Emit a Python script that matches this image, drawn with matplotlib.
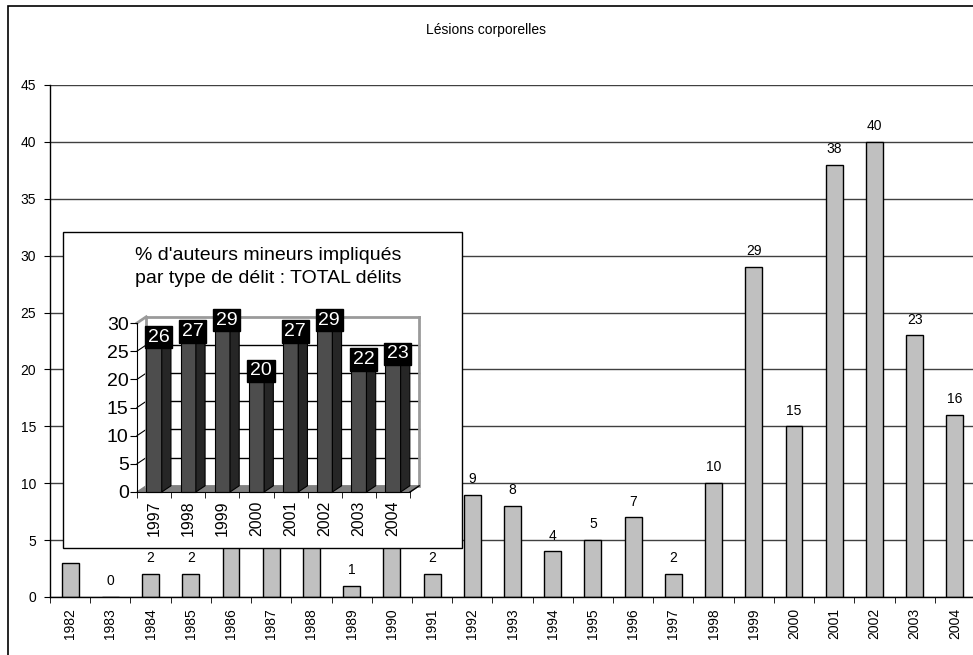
import matplotlib
matplotlib.use('Agg')
import matplotlib.pyplot as plt
from matplotlib.patches import Rectangle, Polygon
from matplotlib.lines import Line2D
import numpy as np

plt.rcParams['font.family'] = ['Liberation Sans', 'DejaVu Sans']

# ---------------- data ----------------
title = "Lésions corporelles"
years = [str(y) for y in range(1982, 2005)]
values = [3, 0, 2, 2, 6, 5, 6, 1, 5, 2, 9, 8, 4, 5, 7, 2, 10, 29, 15, 38, 40, 23, 16]

inset_title = "% d'auteurs mineurs impliqués\npar type de délit : TOTAL délits"
inset_years = ['1997', '1998', '1999', '2000', '2001', '2002', '2003', '2004']
inset_values = [26, 27, 29, 20, 27, 29, 22, 23]
y_ticks = list(range(0, 50, 5))
inset_y_ticks = list(range(0, 35, 5))

# ---------------- figure ----------------
W, H = 973, 655
fig = plt.figure(figsize=(W / 100, H / 100), dpi=100)


def fx(px):
    return px / W


def fy(py):
    return 1 - py / H


# inset box extent (pixels)
BOX_L, BOX_T, BOX_R, BOX_B = 63, 232, 462, 548

# outer border (cut off at right / bottom)
fig.patches.append(Rectangle((fx(8), fy(665)), fx(990) - fx(8), fy(6) - fy(665),
                             transform=fig.transFigure, fill=False, ec='black',
                             lw=1.2, zorder=0))

fig.text(fx(486), fy(30), title, ha='center', va='center', fontsize=10)

# ---------------- main axes ----------------
ax = fig.add_axes([fx(50), fy(597), (975 - 50) / W, (597 - 85) / H])
ax.set_zorder(0)
x = np.arange(len(years))
ax.bar(x, values, width=0.42, color='#c0c0c0', edgecolor='black', linewidth=1, zorder=2)
ax.set_xlim(-0.5, len(years) - 0.5)
ax.set_ylim(0, 45)
ax.set_yticks(y_ticks)
ax.yaxis.grid(True, color='#404040', lw=1)
ax.set_axisbelow(True)
for s in ['top', 'right']:
    ax.spines[s].set_visible(False)
for s in ['left', 'bottom']:
    ax.spines[s].set_color('black')
    ax.spines[s].set_linewidth(1)
ax.set_xticks(x)
ax.set_xticklabels(years, rotation=90, fontsize=10)
ax.set_xticks(np.arange(len(years) + 1) - 0.5, minor=True)
ax.tick_params(axis='x', which='major', length=0, pad=8)
ax.tick_params(axis='x', which='minor', length=4, direction='out')
ax.tick_params(axis='y', length=4, pad=6, labelsize=10)

# value labels (those falling behind the inset box are hidden, as in the reference)
fig.canvas.draw()
for xi, v in zip(x, values):
    px, py = ax.transData.transform((xi, v))
    py_top = H - py  # pixel from top
    label_px_y = py_top - 12
    if BOX_L - 5 < px < BOX_R + 5 and label_px_y - 12 < BOX_B:
        continue
    ax.annotate(str(v), (xi, v), xytext=(0, 8.5), textcoords='offset points',
                ha='center', va='baseline', fontsize=10)

# ---------------- inset box ----------------
fig.patches.append(Rectangle((fx(BOX_L), fy(BOX_B)), (BOX_R - BOX_L) / W, (BOX_B - BOX_T) / H,
                             transform=fig.transFigure, fc='white', ec='black',
                             lw=1, zorder=1))
fig.text(fx(268), fy(267), inset_title, ha='center', va='center', fontsize=14,
         linespacing=1.45, zorder=3)

iax = fig.add_axes([fx(137), fy(492), (410 - 137) / W, (492 - 323) / H])
iax.set_zorder(2)
iax.patch.set_visible(False)
n = len(inset_years)
ix = np.arange(n)
iax.set_xlim(-0.5, n - 0.5)
iax.set_ylim(0, 30)
dx, dy = 0.27, 1.1
bw = 0.45
xl, xr = -0.5, n - 0.5

# floor
iax.add_patch(Polygon([(xl, 0), (xr, 0), (xr + dx, dy), (xl + dx, dy)],
                      closed=True, fc='#808080', ec='#808080', clip_on=False, zorder=1))
# walls gridlines
for v in inset_y_ticks[1:-1]:
    iax.add_line(Line2D([xl, xl + dx], [v, v + dy], color='black', lw=0.8, clip_on=False, zorder=1))
    iax.add_line(Line2D([xl + dx, xr + dx], [v + dy, v + dy], color='black', lw=1, clip_on=False, zorder=1))
top = inset_y_ticks[-1]
frame_kw = dict(color='#9a9a9a', lw=2, clip_on=False, zorder=1.5)
iax.add_line(Line2D([xl + dx, xr + dx], [top + dy, top + dy], **frame_kw))
iax.add_line(Line2D([xr + dx, xr + dx], [dy, top + dy], **frame_kw))
iax.add_line(Line2D([xl + dx, xl + dx], [dy, top + dy], **frame_kw))
iax.add_line(Line2D([xl, xl + dx], [top, top + dy], **frame_kw))
iax.add_line(Line2D([xr, xr + dx], [0, dy], color='black', lw=1, clip_on=False, zorder=1.5))

# bars
for i, v in zip(ix, inset_values):
    iax.add_patch(Rectangle((i - bw / 2, 0), bw, v, fc='#4d4d4d', ec='black', lw=0.8,
                            clip_on=False, zorder=3))
    iax.add_patch(Polygon([(i + bw / 2, 0), (i + bw / 2 + dx, dy), (i + bw / 2 + dx, v + dy),
                           (i + bw / 2, v)], closed=True, fc='#262626', ec='black', lw=0.8,
                          clip_on=False, zorder=3))
    iax.add_patch(Polygon([(i - bw / 2, v), (i + bw / 2, v), (i + bw / 2 + dx, v + dy),
                           (i - bw / 2 + dx, v + dy)], closed=True, fc='#333333', ec='black',
                          lw=0.8, clip_on=False, zorder=3))
    iax.text(i + dx / 2, v + 1.5, str(v), ha='center', va='center', color='white',
             fontsize=14, zorder=5, clip_on=False,
             bbox=dict(boxstyle='square,pad=0.14', fc='black', ec='black'))

for s in ['top', 'right']:
    iax.spines[s].set_visible(False)
iax.spines['left'].set_color('black')
iax.spines['bottom'].set_color('black')
iax.spines['left'].set_zorder(4)
iax.spines['bottom'].set_zorder(4)
iax.set_yticks(inset_y_ticks)
iax.tick_params(axis='y', length=5, pad=1, labelsize=14)
iax.set_xticks(ix)
iax.set_xticklabels(inset_years, rotation=90, fontsize=11.5)
iax.set_xticks(np.arange(n + 1) - 0.5, minor=True)
iax.tick_params(axis='x', which='major', length=0, pad=6)
iax.tick_params(axis='x', which='minor', length=4, direction='out')

fig.savefig('out.png', dpi=100)
